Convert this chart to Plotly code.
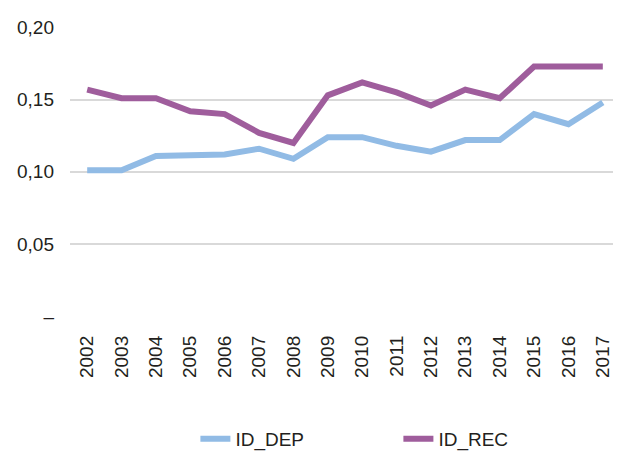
import plotly.graph_objects as go

years = [str(y) for y in range(2002, 2018)]
id_dep = [0.101, 0.101, 0.111, 0.111, 0.112, 0.116, 0.109, 0.124, 0.124, 0.118, 0.114, 0.122, 0.122, 0.140, 0.133, 0.148]
id_rec = [0.157, 0.151, 0.151, 0.142, 0.140, 0.127, 0.120, 0.153, 0.162, 0.155, 0.146, 0.157, 0.151, 0.173, 0.173, 0.173]
y_tickvals = [0, 0.05, 0.10, 0.15, 0.20]
y_ticktext = ["–", "0,05", "0,10", "0,15", "0,20"]

FONT = "Liberation Sans, Arial, Helvetica, sans-serif"

fig = go.Figure()
fig.add_trace(go.Scatter(x=years, y=id_dep, mode="lines", name="ID_DEP",
                         line=dict(color="#91BBE5", width=6)))
fig.add_trace(go.Scatter(x=years, y=id_rec, mode="lines", name="ID_REC",
                         line=dict(color="#9F5D9C", width=6)))

# page body has an 8px default margin, so the figure is offset by (8, 8)
fig.update_layout(
    width=613, height=443,
    margin=dict(l=62, r=1, t=19, b=135, autoexpand=False),
    paper_bgcolor="white", plot_bgcolor="white",
    font=dict(family=FONT, color="#231F20", size=18),
    showlegend=True,
    legend=dict(orientation="h", x=0.228, xanchor="left",
                yref="container", y=0.0275, yanchor="middle",
                font=dict(size=19), entrywidth=158, entrywidthmode="pixels",
                tracegroupgap=0, itemwidth=30),
    xaxis=dict(type="category", range=[-0.5, 15.5], showgrid=False, showline=False,
               zeroline=False, tickangle=-90, tickfont=dict(size=19), ticks="",
               ticklabelstandoff=15, automargin=False),
    yaxis=dict(range=[0, 0.2004], tickvals=y_tickvals, ticktext=y_ticktext,
               showgrid=True, gridcolor="#D9D9D9", gridwidth=2,
               zeroline=False, showline=False, ticks="",
               tickfont=dict(size=19), ticklabelstandoff=15, automargin=False),
)

fig.write_html("out.html")
